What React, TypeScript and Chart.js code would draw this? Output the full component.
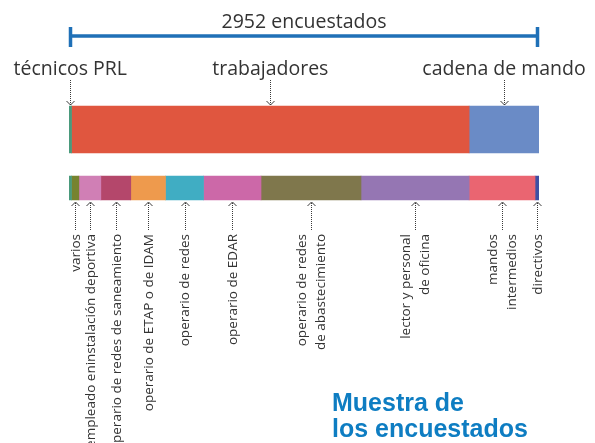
import React, { useEffect, useRef } from 'react';
import { Chart, registerables } from 'chart.js';

Chart.register(...registerables);

// ---- data ----
const rowLabels = ['grupos', 'puestos'];
const groupLabels = ['técnicos PRL', 'trabajadores', 'cadena de mando'];
const groupColors = ['#4a9a7c', '#e0563f', '#6a8bc6'];
const roleLabels = [
  'técnicos PRL',
  'varios',
  'empleado eninstalación deportiva',
  'operario de redes de saneamiento',
  'operario de ETAP o de IDAM',
  'operario de redes',
  'operario de EDAR',
  'operario de redes\nde abastecimiento',
  'lector y personal\nde oficina',
  'mandos\nintermedios',
  'directivos',
];
const roleValues = [16, 46, 138, 188, 218, 239, 361, 628, 679, 414, 25];
const roleGroups = [0, 1, 1, 1, 1, 1, 1, 1, 1, 2, 2];
const roleShowLabel = [false, true, true, true, true, true, true, true, true, true, true];
const roleColors = [
  '#4a9a7c', '#77832f', '#d07fb5', '#b4476b', '#ee9a4d', '#40adc3',
  '#cc68a8', '#7f774c', '#9576b3', '#ea6571', '#3f50a3',
];
const totalSuffix = 'encuestados';
const titleLines = ['Muestra de', 'los encuestados'];

const groupValues = groupLabels.map((_, g) =>
  roleValues.reduce((s, v, i) => (roleGroups[i] === g ? s + v : s), 0)
);
const total = roleValues.reduce((a, b) => a + b, 0);

const TEXT = '#333333';
const FONT = '"Open Sans", "Noto Sans", sans-serif';

function dotted(ctx: CanvasRenderingContext2D, x: number, y1: number, y2: number) {
  ctx.save();
  ctx.strokeStyle = '#3a3a3a';
  ctx.lineWidth = 1;
  ctx.setLineDash([1, 1]);
  ctx.beginPath();
  const xx = Math.round(x) + 0.5;
  ctx.moveTo(xx, y1);
  ctx.lineTo(xx, y2);
  ctx.stroke();
  ctx.restore();
}

function chevron(ctx: CanvasRenderingContext2D, x: number, tipY: number, dir: number) {
  ctx.save();
  ctx.strokeStyle = '#3a3a3a';
  ctx.lineWidth = 1;
  const xx = Math.round(x) + 0.5;
  ctx.beginPath();
  ctx.moveTo(xx - 4, tipY - dir * 4);
  ctx.lineTo(xx, tipY);
  ctx.lineTo(xx + 4, tipY - dir * 4);
  ctx.stroke();
  ctx.restore();
}

const annotations = {
  id: 'annotations',
  afterDraw(chart: any) {
    const ctx: CanvasRenderingContext2D = chart.ctx;
    const xs = chart.scales.x;
    const left = xs.getPixelForValue(0);
    const right = xs.getPixelForValue(total);
    ctx.save();

    // bracket
    ctx.strokeStyle = '#1f70b7';
    ctx.lineWidth = 3.5;
    ctx.beginPath();
    ctx.moveTo(left + 1.5, 36);
    ctx.lineTo(right - 1.5, 36);
    ctx.moveTo(left + 1.5, 27);
    ctx.lineTo(left + 1.5, 47);
    ctx.moveTo(right - 1.5, 27);
    ctx.lineTo(right - 1.5, 47);
    ctx.stroke();

    ctx.fillStyle = TEXT;
    ctx.font = `19.5px ${FONT}`;
    ctx.textAlign = 'center';
    ctx.textBaseline = 'alphabetic';
    ctx.fillText(`${total} ${totalSuffix}`, (left + right) / 2, 28);

    // top row labels
    const topMeta = chart.getDatasetMeta(0).data[0];
    const topY = topMeta.y - topMeta.height / 2;
    let cum = 0;
    groupLabels.forEach((lab, i) => {
      const cx = xs.getPixelForValue(cum + groupValues[i] / 2);
      cum += groupValues[i];
      ctx.fillStyle = TEXT;
      ctx.font = `19.5px ${FONT}`;
      ctx.textAlign = 'center';
      ctx.fillText(lab, cx, 75);
      dotted(ctx, cx, 80, topY - 1);
      chevron(ctx, cx, topY - 1, 1);
    });

    // bottom row labels
    const botMeta = chart.getDatasetMeta(groupLabels.length).data[1];
    const botBottom = botMeta.y + botMeta.height / 2;
    const textTop = 234;
    cum = 0;
    roleLabels.forEach((lab, i) => {
      const cx = xs.getPixelForValue(cum + roleValues[i] / 2);
      cum += roleValues[i];
      if (!roleShowLabel[i]) return;
      chevron(ctx, cx, botBottom + 2, -1);
      dotted(ctx, cx, botBottom + 3, textTop - 3);
      const lines = lab.split('\n');
      ctx.save();
      ctx.translate(cx, textTop);
      ctx.rotate(-Math.PI / 2);
      ctx.fillStyle = TEXT;
      ctx.font = `13.5px ${FONT}`;
      ctx.textAlign = 'right';
      ctx.textBaseline = 'middle';
      lines.forEach((ln, k) => {
        const off = (k - (lines.length - 1) / 2) * 19;
        ctx.fillText(ln, 0, off + 1);
      });
      ctx.restore();
    });

    // title
    ctx.fillStyle = '#0e7dc2';
    ctx.font = 'bold 25px "Liberation Sans", Arial, sans-serif';
    ctx.textAlign = 'left';
    ctx.textBaseline = 'alphabetic';
    ctx.fillText(titleLines[0], 332, 411);
    ctx.fillText(titleLines[1], 332, 437);
    ctx.restore();
  },
};

export default function App() {
  const ref = useRef<HTMLCanvasElement | null>(null);
  useEffect(() => {
    if (!ref.current) return;
    const datasets: any[] = [];
    groupLabels.forEach((lab, i) => {
      datasets.push({
        label: lab,
        data: [groupValues[i], null],
        backgroundColor: groupColors[i],
        borderWidth: 0,
        barThickness: 47,
      });
    });
    roleLabels.forEach((lab, i) => {
      datasets.push({
        label: lab,
        data: [null, roleValues[i]],
        backgroundColor: roleColors[i],
        borderWidth: 0,
        barThickness: 24,
      });
    });
    const chart = new Chart(ref.current, {
      type: 'bar',
      data: { labels: rowLabels, datasets },
      options: {
        indexAxis: 'y',
        animation: false,
        responsive: false,
        maintainAspectRatio: false,
        layout: { padding: { left: 69, right: 56, top: 100.25, bottom: 225.75 } },
        scales: {
          x: { stacked: true, min: 0, max: total, display: false },
          y: { stacked: true, display: false },
        },
        plugins: {
          legend: { display: false },
          tooltip: { enabled: false },
          title: { display: false },
        },
      },
      plugins: [annotations],
    });
    return () => chart.destroy();
  }, []);
  return (
    <div style={{ position: 'fixed', left: 0, top: 0, width: 595, height: 443, background: '#fff' }}>
      <canvas ref={ref} width={595} height={443} style={{ width: 595, height: 443, display: 'block' }} />
    </div>
  );
}
